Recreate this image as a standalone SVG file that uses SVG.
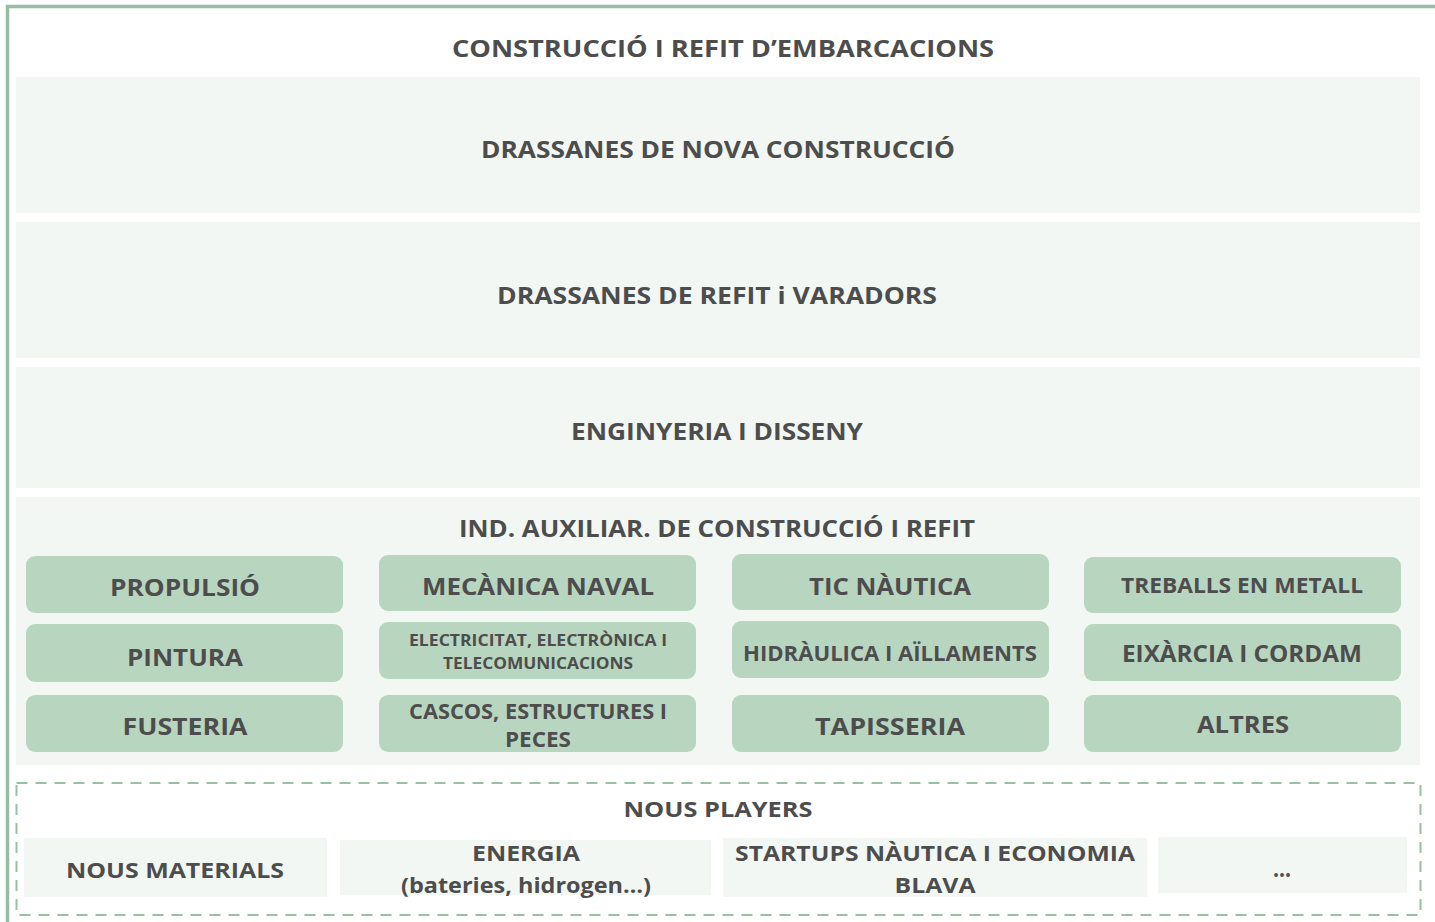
<svg xmlns="http://www.w3.org/2000/svg" width="1435" height="922" viewBox="0 0 1435 922">
<style>
.band{fill:#f2f7f4}
.box{fill:#b8d5c0}
.t{font-family:"Open Sans","Liberation Sans",sans-serif;font-weight:700;fill:#4d4d4d;text-anchor:middle}
.l{font-size:24px}
.m{font-size:21px}
.s{font-size:16px}
</style>
<rect x="0" y="0" width="1435" height="922" fill="#ffffff"/>
<rect x="7.5" y="6.5" width="1445" height="930" fill="none" stroke="#98bca3" stroke-width="3.5"/>
<text class="t l" x="723" y="57" textLength="542" lengthAdjust="spacingAndGlyphs">CONSTRUCCIÓ I REFIT D’EMBARCACIONS</text>
<g id="band-nova"><rect class="band" x="16" y="77" width="1404" height="136"/><text class="t l" x="718" y="158" textLength="474" lengthAdjust="spacingAndGlyphs">DRASSANES DE NOVA CONSTRUCCIÓ</text></g>
<g id="band-refit"><rect class="band" x="16" y="222" width="1404" height="136"/><text class="t l" x="717" y="304" textLength="440" lengthAdjust="spacingAndGlyphs">DRASSANES DE REFIT i VARADORS</text></g>
<g id="band-enginyeria"><rect class="band" x="16" y="367" width="1404" height="121"/><text class="t l" x="717" y="440" textLength="292" lengthAdjust="spacingAndGlyphs">ENGINYERIA I DISSENY</text></g>
<g id="band-auxiliar"><rect class="band" x="16" y="497" width="1404" height="268"/><text class="t l" x="717" y="537" textLength="516" lengthAdjust="spacingAndGlyphs">IND. AUXILIAR. DE CONSTRUCCIÓ I REFIT</text></g>
<g id="propulsio"><rect class="box" x="26" y="556" width="317" height="57" rx="9"/><text class="t l" x="185" y="596" textLength="150" lengthAdjust="spacingAndGlyphs">PROPULSIÓ</text></g>
<g id="mecanica"><rect class="box" x="379" y="555" width="317" height="56" rx="9"/><text class="t l" x="538" y="595" textLength="232" lengthAdjust="spacingAndGlyphs">MECÀNICA NAVAL</text></g>
<g id="tic"><rect class="box" x="732" y="554" width="317" height="56" rx="9"/><text class="t l" x="890" y="595" textLength="162" lengthAdjust="spacingAndGlyphs">TIC NÀUTICA</text></g>
<g id="metall"><rect class="box" x="1084" y="557" width="317" height="56" rx="9"/><text class="t m" x="1242" y="593" textLength="242" lengthAdjust="spacingAndGlyphs">TREBALLS EN METALL</text></g>
<g id="pintura"><rect class="box" x="26" y="624" width="317" height="58" rx="9"/><text class="t l" x="185" y="666" textLength="116" lengthAdjust="spacingAndGlyphs">PINTURA</text></g>
<g id="electricitat"><rect class="box" x="379" y="622" width="317" height="57" rx="9"/><text class="t s" x="538" y="646" textLength="258" lengthAdjust="spacingAndGlyphs">ELECTRICITAT, ELECTRÒNICA I</text><text class="t s" x="538" y="669" textLength="190" lengthAdjust="spacingAndGlyphs">TELECOMUNICACIONS</text></g>
<g id="hidraulica"><rect class="box" x="732" y="621" width="317" height="57" rx="9"/><text class="t m" x="890" y="661" textLength="294" lengthAdjust="spacingAndGlyphs">HIDRÀULICA I AÏLLAMENTS</text></g>
<g id="eixarcia"><rect class="box" x="1084" y="624" width="317" height="57" rx="9"/><text class="t l" x="1242" y="662" textLength="240" lengthAdjust="spacingAndGlyphs">EIXÀRCIA I CORDAM</text></g>
<g id="fusteria"><rect class="box" x="26" y="695" width="317" height="57" rx="9"/><text class="t l" x="185" y="735" textLength="125" lengthAdjust="spacingAndGlyphs">FUSTERIA</text></g>
<g id="cascos"><rect class="box" x="379" y="695" width="317" height="57" rx="9"/><text class="t m" x="538" y="719" textLength="258" lengthAdjust="spacingAndGlyphs">CASCOS, ESTRUCTURES I</text><text class="t m" x="538" y="747" textLength="66" lengthAdjust="spacingAndGlyphs">PECES</text></g>
<g id="tapisseria"><rect class="box" x="732" y="695" width="317" height="57" rx="9"/><text class="t l" x="890" y="735" textLength="150" lengthAdjust="spacingAndGlyphs">TAPISSERIA</text></g>
<g id="altres"><rect class="box" x="1084" y="695" width="317" height="57" rx="9"/><text class="t l" x="1243" y="733" textLength="92" lengthAdjust="spacingAndGlyphs">ALTRES</text></g>
<g id="nous-players"><rect x="16.5" y="783" width="1404" height="132" fill="none" stroke="#9bbfa5" stroke-width="2" stroke-dasharray="11 8"/><text class="t m" x="718" y="817" textLength="189" lengthAdjust="spacingAndGlyphs">NOUS PLAYERS</text></g>
<g id="nous-materials"><rect class="band" x="24" y="838" width="303" height="59"/><text class="t m" x="175" y="878" textLength="218" lengthAdjust="spacingAndGlyphs">NOUS MATERIALS</text></g>
<g id="energia"><rect class="band" x="340" y="840" width="371" height="55"/><text class="t m" x="526" y="861" textLength="108" lengthAdjust="spacingAndGlyphs">ENERGIA</text><text class="t m" x="526" y="893" textLength="250" lengthAdjust="spacingAndGlyphs">(bateries, hidrogen…)</text></g>
<g id="startups"><rect class="band" x="723" y="838" width="424" height="59"/><text class="t m" x="935" y="861" textLength="400" lengthAdjust="spacingAndGlyphs">STARTUPS NÀUTICA I ECONOMIA</text><text class="t m" x="935" y="893" textLength="81" lengthAdjust="spacingAndGlyphs">BLAVA</text></g>
<g id="altres-players"><rect class="band" x="1158" y="837" width="249" height="56"/><text class="t l" x="1282" y="877" textLength="18" lengthAdjust="spacingAndGlyphs">…</text></g>
<g id="connectors"></g>
</svg>
